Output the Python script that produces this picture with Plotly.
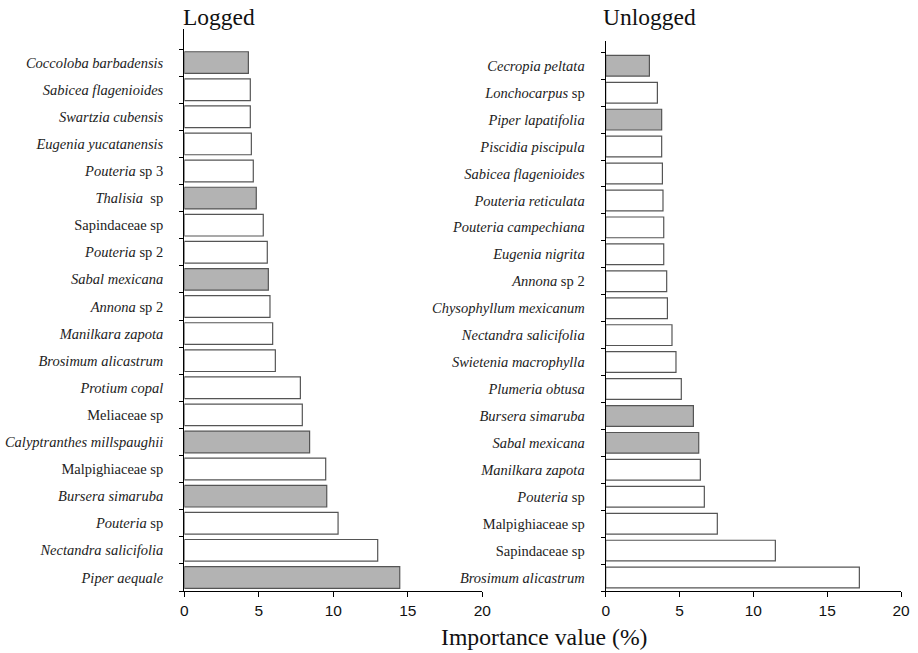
import plotly.graph_objects as go

# Logged forest: species (bottom to top) and importance values (%)
logged_species = [
    "<i>Piper aequale</i>", "<i>Nectandra salicifolia</i>", "<i>Pouteria</i> sp",
    "<i>Bursera simaruba</i>", "Malpighiaceae sp", "<i>Calyptranthes millspaughii</i>",
    "Meliaceae sp", "<i>Protium copal</i>", "<i>Brosimum alicastrum</i>",
    "<i>Manilkara zapota</i>", "<i>Annona</i> sp 2", "<i>Sabal mexicana</i>",
    "<i>Pouteria</i> sp 2", "Sapindaceae sp", "<i>Thalisia</i>  sp",
    "<i>Pouteria</i> sp 3", "<i>Eugenia yucatanensis</i>", "<i>Swartzia cubensis</i>",
    "<i>Sabicea flagenioides</i>", "<i>Coccoloba barbadensis</i>",
]
logged_values = [14.46, 12.98, 10.32, 9.56, 9.49, 8.41, 7.92, 7.79, 6.11, 5.93,
                 5.75, 5.64, 5.57, 5.30, 4.83, 4.63, 4.50, 4.43, 4.43, 4.30]
logged_shaded = [True, False, False, True, False, True, False, False, False, False,
                 False, True, False, False, True, False, False, False, False, True]

# Unlogged forest
unlogged_species = [
    "<i>Brosimum alicastrum</i>", "Sapindaceae sp", "Malpighiaceae sp",
    "<i>Pouteria</i> sp", "<i>Manilkara zapota</i>", "<i>Sabal mexicana</i>",
    "<i>Bursera simaruba</i>", "<i>Plumeria obtusa</i>", "<i>Swietenia macrophylla</i>",
    "<i>Nectandra salicifolia</i>", "<i>Chysophyllum mexicanum</i>", "<i>Annona</i> sp 2",
    "<i>Eugenia nigrita</i>", "<i>Pouteria campechiana</i>", "<i>Pouteria reticulata</i>",
    "<i>Sabicea flagenioides</i>", "<i>Piscidia piscipula</i>", "<i>Piper lapatifolia</i>",
    "<i>Lonchocarpus</i> sp", "<i>Cecropia peltata</i>",
]
unlogged_values = [17.18, 11.49, 7.56, 6.68, 6.41, 6.30, 5.94, 5.12, 4.76, 4.49,
                   4.18, 4.13, 3.93, 3.93, 3.88, 3.84, 3.79, 3.79, 3.50, 2.96]
unlogged_shaded = [False, False, False, False, False, True, True, False, False, False,
                   False, False, False, False, False, False, False, True, False, True]

x_ticks = [0, 5, 10, 15, 20]

GRAY = "#b3b3b3"
EDGE = "#555555"
SERIF = "Liberation Serif, Times New Roman, serif"
SANS = "Liberation Sans, Arial, sans-serif"

fig = go.Figure()

fig.add_trace(go.Bar(
    x=logged_values, y=logged_species, orientation="h",
    marker=dict(color=[GRAY if s else "white" for s in logged_shaded],
                line=dict(color=EDGE, width=1.2)),
    width=0.8, xaxis="x", yaxis="y", showlegend=False,
))
fig.add_trace(go.Bar(
    x=unlogged_values, y=unlogged_species, orientation="h",
    marker=dict(color=[GRAY if s else "white" for s in unlogged_shaded],
                line=dict(color=EDGE, width=1.2)),
    width=0.77, xaxis="x2", yaxis="y2", showlegend=False,
))

W, H = 918, 653
y_bottom = 1 - 591 / H

xcommon = dict(range=[0, 20], tickvals=x_ticks, ticks="outside", ticklen=5,
               tickwidth=1.2, tickcolor="black", showline=True, linecolor="black",
               linewidth=1.3, showgrid=False, zeroline=False, fixedrange=True,
               automargin=False,
               tickfont=dict(family=SANS, size=15.5, color="#111"))
ycommon = dict(type="category", tickson="boundaries", ticks="outside", ticklen=4,
               tickwidth=1.2, tickcolor="black", showline=True, linecolor="black",
               linewidth=1.3, showgrid=False, zeroline=False, automargin=False,
               ticklabelstandoff=17, fixedrange=True,
               tickfont=dict(family=SERIF, size=14.5, color="#222"))

fig.update_layout(
    template="none",
    width=W, height=H,
    margin=dict(l=0, r=0, t=0, b=0, pad=0),
    paper_bgcolor="white", plot_bgcolor="white",
    xaxis=dict(domain=[184.3 / W, 482.3 / W], anchor="y", **xcommon),
    yaxis=dict(domain=[y_bottom, 1 - 29 / H], anchor="x",
               range=[-0.5, 20.24], **ycommon),
    xaxis2=dict(domain=[605.7 / W, 901 / W], anchor="y2", **xcommon),
    yaxis2=dict(domain=[y_bottom, 1 - 40.7 / H], anchor="x2",
                range=[-0.5, 19.93], **ycommon),
)

fig.add_annotation(text="Logged", xref="paper", yref="paper",
                   x=181 / W, y=1 - 17 / H, xanchor="left", yanchor="middle",
                   showarrow=False, font=dict(family=SERIF, size=23.5, color="#111"))
fig.add_annotation(text="Unlogged", xref="paper", yref="paper",
                   x=601 / W, y=1 - 17 / H, xanchor="left", yanchor="middle",
                   showarrow=False, font=dict(family=SERIF, size=23.5, color="#111"))
fig.add_annotation(text="Importance value (%)", xref="paper", yref="paper",
                   x=544 / W, y=1 - 637 / H, xanchor="center", yanchor="middle",
                   showarrow=False, font=dict(family=SERIF, size=23.7, color="#111"))

fig.write_html("out.html")
